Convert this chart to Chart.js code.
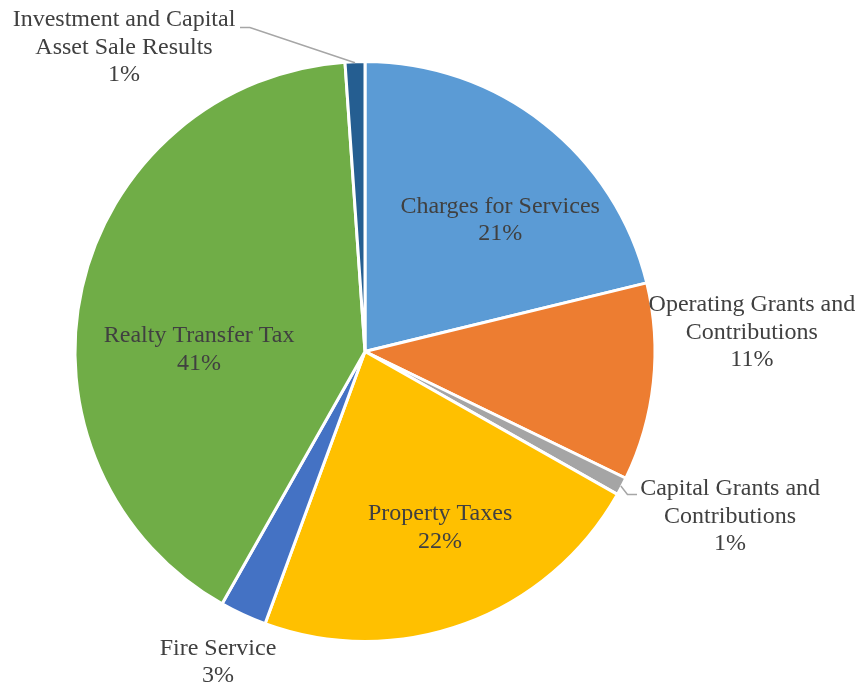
<!DOCTYPE html>
<html>
<head>
<meta charset="utf-8">
<script src="https://cdn.jsdelivr.net/npm/chart.js@4/dist/chart.umd.min.js"></script>
<style>
html,body{margin:0;padding:0;background:#fff;}
#wrap{width:856px;height:685px;position:relative;}
</style>
</head>
<body>
<div id="wrap"><canvas id="c" width="856" height="685"></canvas></div>
<script>
// ---- data ----
const categories = [
  "Charges for Services",
  "Operating Grants and Contributions",
  "Capital Grants and Contributions",
  "Property Taxes",
  "Fire Service",
  "Realty Transfer Tax",
  "Investment and Capital Asset Sale Results"
];
const shares = [21.2, 11.0, 1.0, 22.4, 2.6, 40.7, 1.1];
const percentLabels = ["21%", "11%", "1%", "22%", "3%", "41%", "1%"];
const labelLines = [
  ["Charges for Services"],
  ["Operating Grants and", "Contributions"],
  ["Capital Grants and", "Contributions"],
  ["Property Taxes"],
  ["Fire Service"],
  ["Realty Transfer Tax"],
  ["Investment and Capital", "Asset Sale Results"]
];
const colors = ["#5B9BD5", "#ED7D31", "#A5A5A5", "#FFC000", "#4472C4", "#70AD47", "#255E91"];

// label placement (offset of label block centre from pie centre, in radius units)
const labelPos = [
  [0.466, -0.452],
  [1.334, -0.066],
  [1.259, 0.569],
  [0.259, 0.607],
  [-0.507, 1.072],
  [-0.572, -0.007],
  [-0.831, -1.048]
];
// leader lines: points after the arc edge point, in radius units relative to centre
const leaders = {
  2: [[0.905, 0.493], [0.938, 0.493]],
  6: [[-0.397, -1.117], [-0.431, -1.117]]
};

const FONT = '24px "Liberation Serif", "Times New Roman", serif';
const LINE_H = 27.5;

const labelPlugin = {
  id: 'sliceLabels',
  afterDatasetsDraw(chart) {
    const ctx = chart.ctx;
    const meta = chart.getDatasetMeta(0);
    ctx.save();
    meta.data.forEach((arc, i) => {
      const p = arc.getProps(['x', 'y', 'startAngle', 'endAngle', 'outerRadius'], true);
      const r = p.outerRadius;
      if (leaders[i]) {
        const mid = (p.startAngle + p.endAngle) / 2;
        ctx.beginPath();
        ctx.strokeStyle = '#A6A6A6';
        ctx.lineWidth = 1.5;
        ctx.moveTo(p.x + Math.cos(mid) * (r - 1), p.y + Math.sin(mid) * (r - 1));
        leaders[i].forEach(pt => ctx.lineTo(p.x + pt[0] * r, p.y + pt[1] * r));
        ctx.stroke();
      }
      const lines = labelLines[i].concat([percentLabels[i]]);
      const cx = p.x + labelPos[i][0] * r;
      const cy = p.y + labelPos[i][1] * r;
      ctx.font = FONT;
      ctx.fillStyle = '#404040';
      ctx.textAlign = 'center';
      ctx.textBaseline = 'middle';
      const top = cy - (lines.length - 1) * LINE_H / 2;
      lines.forEach((t, k) => ctx.fillText(t, cx, top + k * LINE_H));
    });
    ctx.restore();
  }
};

new Chart(document.getElementById('c'), {
  type: 'pie',
  data: {
    labels: categories,
    datasets: [{
      data: shares,
      backgroundColor: colors,
      borderColor: '#ffffff',
      borderWidth: 3
    }]
  },
  options: {
    responsive: false,
    animation: false,
    layout: { padding: { left: 73, right: 199, top: 60, bottom: 42 } },
    plugins: {
      legend: { display: false },
      tooltip: { enabled: false }
    }
  },
  plugins: [labelPlugin]
});
</script>
</body>
</html>
